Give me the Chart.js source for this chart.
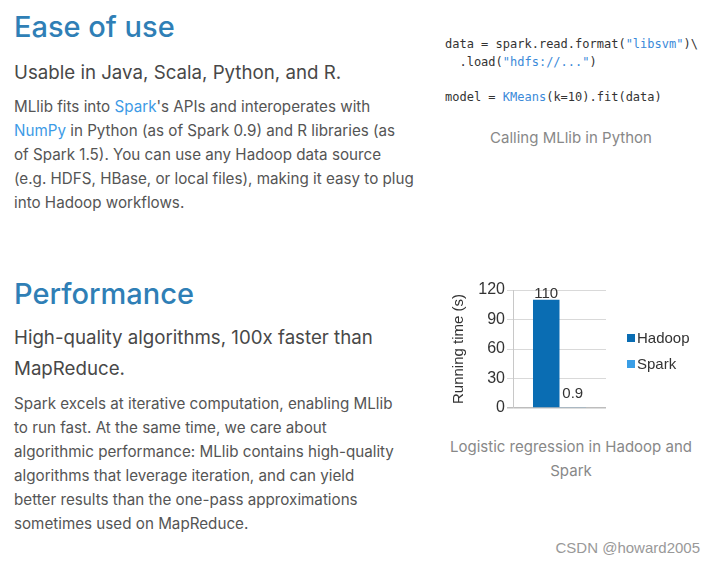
<!DOCTYPE html>
<html>
<head>
<meta charset="utf-8">
<script src="https://cdn.jsdelivr.net/npm/chart.js@4.4.1/dist/chart.umd.min.js"></script>
<style>
  html, body { margin:0; padding:0; background:#fff; width:714px; height:564px; overflow:hidden; }
  body { position:relative; font-family: "Inter", "Lato", sans-serif; color:#555; }
  .abs { position:absolute; white-space:nowrap; }
  h2 { margin:0; font-weight:500; color:#2f7fb6; font-size:29px; line-height:40px; }
  .sub { font-size:18.7px; line-height:31px; color:#484848; }
  .body { font-size:15.2px; line-height:24px; color:#555; }
  .body a { color:#3d9be6; text-decoration:none; }
  .code { white-space:pre; font-family:"DejaVu Sans Mono", monospace; font-size:12px; line-height:17px; color:#333; }
  .s { color:#3b8ad9; }
  .cap { font-size:15px; line-height:24px; color:#888; text-align:center; }
  .wm { font-family:"Liberation Sans", Arial, sans-serif; font-size:15px; color:#999; }
</style>
</head>
<body>
<h2 class="abs" style="left:14px; top:7px;">Ease of use</h2>
<div class="abs sub" style="left:14px; top:57px;">Usable in Java, Scala, Python, and R.</div>
<div class="abs body" style="left:14px; top:95px;">MLlib fits into <a>Spark</a>'s APIs and interoperates with<br><a>NumPy</a> in Python (as of Spark 0.9) and R libraries (as<br>of Spark 1.5). You can use any Hadoop data source<br>(e.g. HDFS, HBase, or local files), making it easy to plug<br>into Hadoop workflows.</div>
<div class="abs code" style="left:445px; top:36px;">data = spark.read.format(<span class="s">"libsvm"</span>)\</div>
<div class="abs code" style="left:445px; top:54px;">  .load(<span class="s">"hdfs://..."</span>)</div>
<div class="abs code" style="left:445px; top:89px;">model = <span class="s">KMeans</span>(k=10).fit(data)</div>
<div class="abs cap" style="left:430px; width:282px; top:126px;">Calling MLlib in Python</div>

<h2 class="abs" style="left:14px; top:274px;">Performance</h2>
<div class="abs sub" style="left:14px; top:322px;">High-quality algorithms, 100x faster than<br>MapReduce.</div>
<div class="abs body" style="left:14px; top:392px;">Spark excels at iterative computation, enabling MLlib<br>to run fast. At the same time, we care about<br>algorithmic performance: MLlib contains high-quality<br>algorithms that leverage iteration, and can yield<br>better results than the one-pass approximations<br>sometimes used on MapReduce.</div>

<div class="abs" style="left:440px; top:270px; width:270px; height:150px;">
  <canvas id="c" width="270" height="150"></canvas>
</div>
<div class="abs cap" style="left:430px; width:282px; top:435px;">Logistic regression in Hadoop and<br>Spark</div>
<div class="abs wm" style="right:14px; top:539px;">CSDN @howard2005</div>

<script>
const categories = ["Logistic regression"];
const seriesNames = ["Hadoop", "Spark"];
const hadoopValues = [110];
const sparkValues = [0.9];
const yTicks = [0, 30, 60, 90, 120];
const seriesColors = ["#0a6db3", "#3a9ee6"];

const FONT = "Liberation Sans, Arial, sans-serif";

const valueLabels = {
  id: "valueLabels",
  afterDatasetsDraw(chart) {
    const ctx = chart.ctx;
    ctx.save();
    ctx.font = "15px " + FONT;
    ctx.fillStyle = "#333";
    ctx.textAlign = "center";
    ctx.textBaseline = "alphabetic";
    chart.data.datasets.forEach((ds, i) => {
      const meta = chart.getDatasetMeta(i);
      meta.data.forEach((bar, j) => {
        const y = Math.min(bar.y - 2, bar.base - 9);
        ctx.fillText(String(ds.data[j]), bar.x, y);
      });
    });
    ctx.restore();
  }
};

const sideLegend = {
  id: "sideLegend",
  afterDraw(chart) {
    const ctx = chart.ctx;
    const x = chart.chartArea.right + 21;
    let y = 68;
    ctx.save();
    ctx.font = "15px " + FONT;
    ctx.textBaseline = "middle";
    chart.data.datasets.forEach(ds => {
      ctx.fillStyle = ds.backgroundColor;
      ctx.fillRect(x, y - 4, 8, 8);
      ctx.fillStyle = "#333";
      ctx.fillText(ds.label, x + 10, y + 1);
      y += 26;
    });
    ctx.restore();
  }
};

new Chart(document.getElementById("c"), {
  type: "bar",
  data: {
    labels: categories,
    datasets: [
      { label: seriesNames[0], data: hadoopValues, backgroundColor: seriesColors[0] },
      { label: seriesNames[1], data: sparkValues, backgroundColor: seriesColors[1] }
    ]
  },
  options: {
    responsive: false,
    animation: false,
    devicePixelRatio: 1,
    layout: { padding: { left: 0, top: 20, right: 104, bottom: 12 } },
    plugins: { legend: { display: false }, tooltip: { enabled: false } },
    datasets: { bar: { categoryPercentage: 0.57, barPercentage: 1.0 } },
    scales: {
      x: { display: false },
      y: {
        min: 0, max: 120,
        afterBuildTicks(scale) { scale.ticks = yTicks.map(v => ({ value: v })); },
        afterFit(scale) { scale.width = 73; },
        ticks: { color: "#333", font: { size: 16, family: FONT }, padding: 2 },
        grid: {
          color: c => (c.tick && c.tick.value === 0) ? "#bdbdbd" : "#d9d9d9",
          lineWidth: c => (c.tick && c.tick.value === 0) ? 1.5 : 1,
          tickLength: 6
        },
        border: { color: "#c8c8c8" },
        title: { display: true, text: "Running time (s)", color: "#333", font: { size: 15, family: FONT }, padding: { top: 10, bottom: 0 } }
      }
    }
  },
  plugins: [valueLabels, sideLegend]
});
</script>
</body>
</html>
